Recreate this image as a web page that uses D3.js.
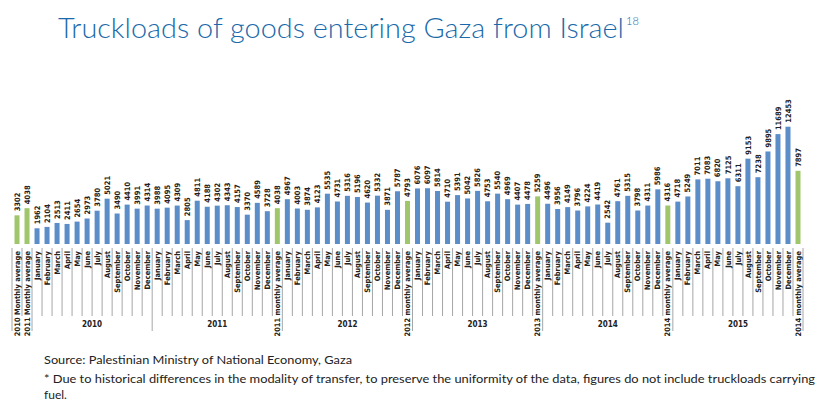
<!DOCTYPE html>
<html>
<head>
<meta charset="utf-8">
<script src="https://cdn.jsdelivr.net/npm/d3@7"></script>
<style>
  html, body { margin: 0; padding: 0; background: #fff; }
  svg { display: block; }
</style>
</head>
<body>
<svg id="chart" width="824" height="413"></svg>
<script>
// ---- DATA ----
const months = ["January","February","March","April","May","June","July","August","September","October","November","December"];

const categories = [
  "2010 Monthly average", "2011 Monthly average",
  ...months,                        // 2010
  ...months, "2011 monthly average",
  ...months, "2012 monthly average",
  ...months, "2013 monthly average",
  ...months, "2014 monthly average",
  ...months, "2014 monthly average" // as printed in the source (2015 average)
];

const values = [
  3302, 4038,
  1962, 2104, 2513, 2411, 2654, 2973, 3780, 5021, 3490, 4410, 3991, 4314,
  3988, 4095, 4309, 2805, 4811, 4188, 4302, 4343, 4157, 3370, 4589, 3728, 4038,
  4967, 4003, 3874, 4123, 5535, 4731, 5316, 5196, 4620, 5332, 3871, 5787, 4793,
  6076, 6097, 5814, 4710, 5391, 5042, 5826, 4753, 5540, 4969, 4407, 4478, 5259,
  4496, 3956, 4149, 3796, 4224, 4419, 2542, 4761, 5315, 3798, 4311, 5986, 4316,
  4718, 5249, 7011, 7083, 6820, 7125, 6311, 9153, 7238, 9895, 11689, 12453, 7897
];

const isAverage = categories.map(c => /average/i.test(c));

const groupLabels = ["", "2010", "2011", "2012", "2013", "2014", "2015"];
const groupSizes  = [2, 12, 13, 13, 13, 13, 13];

const title = "Truckloads of goods entering Gaza from Israel";
const titleNote = "18";
const sourceLines = [
  "Source: Palestinian Ministry of National Economy, Gaza",
  "* Due to historical differences in the modality of transfer, to preserve the uniformity of the data, figures do not include truckloads carrying",
  "fuel."
];

// ---- CHART ----
const svg = d3.select("#chart");
const narrow = "'Liberation Sans Narrow', 'Arial Narrow', 'DejaVu Sans Condensed', sans-serif";

const x = d3.scaleBand()
  .domain(d3.range(categories.length))
  .range([12, 803])
  .paddingInner(0.5)
  .paddingOuter(0.25);

const y = d3.scaleLinear()
  .domain([0, 13000])
  .range([247.3, 121.4]);

const baseY = 244;
const step = x.step();
const x0 = 12;

// title
const t = svg.append("text")
  .attr("x", 58).attr("y", 38)
  .attr("font-family", "Lato, 'Open Sans', sans-serif")
  .attr("font-size", 28)
  .attr("font-weight", 300)
  .attr("fill", "#1a6aab")
  .text(title);
t.attr("textLength", 566).attr("lengthAdjust", "spacingAndGlyphs");
svg.append("text")
  .attr("x", 626).attr("y", 25)
  .attr("font-family", "Lato, 'Open Sans', sans-serif")
  .attr("font-size", 11)
  .attr("font-weight", 300)
  .attr("fill", "#1a6aab")
  .text(titleNote);

// bars
svg.append("g").selectAll("rect")
  .data(values)
  .join("rect")
  .attr("x", (d, i) => x(i))
  .attr("y", d => y(d))
  .attr("width", x.bandwidth())
  .attr("height", d => baseY - y(d))
  .attr("fill", (d, i) => isAverage[i] ? "#9fc66a" : "#5b8dc8");

// value labels
svg.append("g").selectAll("text")
  .data(values)
  .join("text")
  .attr("transform", (d, i) => `translate(${x(i) + x.bandwidth() / 2 + 2.6},${y(d) - 4}) rotate(-90)`)
  .attr("font-family", narrow)
  .attr("font-size", 7.5)
  .attr("font-weight", "bold")
  .attr("fill", "#222")
  .text(d => d);

// separators
const groupBounds = [0];
groupSizes.forEach(s => groupBounds.push(groupBounds[groupBounds.length - 1] + s));
const axisG = svg.append("g");
axisG.selectAll("line")
  .data(d3.range(categories.length + 1))
  .join("line")
  .attr("x1", i => x0 + i * step).attr("x2", i => x0 + i * step)
  .attr("y1", 248)
  .attr("y2", i => groupBounds.includes(i) ? 331 : 316)
  .attr("stroke", "#a6a6a6")
  .attr("stroke-width", 1);

// category labels
svg.append("g").selectAll("text")
  .data(categories)
  .join("text")
  .attr("transform", (d, i) => `translate(${x(i) + x.bandwidth() / 2 + 2.6},251) rotate(-90)`)
  .attr("text-anchor", "end")
  .attr("font-family", narrow)
  .attr("font-size", 7.5)
  .attr("font-weight", "bold")
  .attr("fill", "#222")
  .text(d => d);

// group labels
svg.append("g").selectAll("text")
  .data(groupLabels)
  .join("text")
  .attr("x", (d, i) => x0 + (groupBounds[i] + groupBounds[i + 1]) / 2 * step)
  .attr("y", 327)
  .attr("text-anchor", "middle")
  .attr("font-family", narrow)
  .attr("font-size", 8)
  .attr("font-weight", "bold")
  .attr("fill", "#222")
  .text(d => d);

// source notes
const srcLens = [308, 771, null];
const srcY = [364, 383, 399];
sourceLines.forEach((s, i) => {
  const el = svg.append("text")
    .attr("x", 44).attr("y", srcY[i])
    .attr("font-family", "Lato, 'Open Sans', sans-serif")
    .attr("font-size", 12)
    .attr("fill", "#222")
    .text(s);
  if (srcLens[i]) el.attr("textLength", srcLens[i]).attr("lengthAdjust", "spacingAndGlyphs");
});
</script>
</body>
</html>
